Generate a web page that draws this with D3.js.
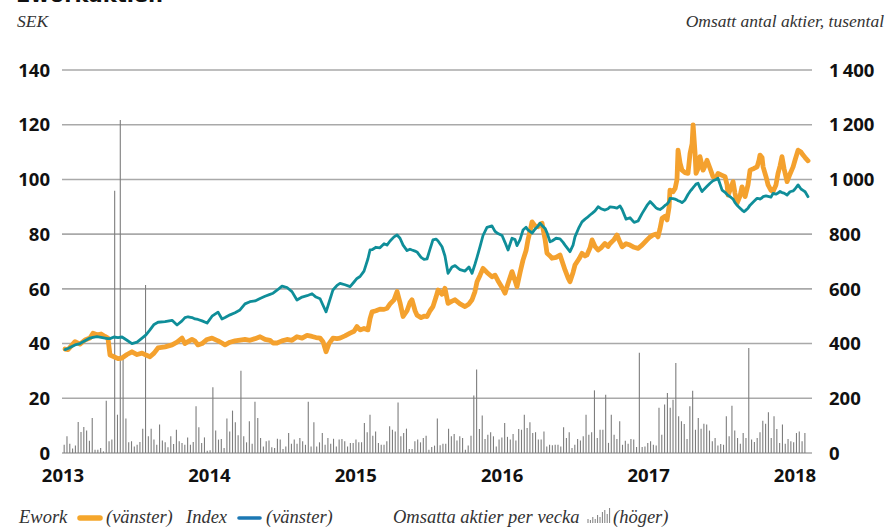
<!DOCTYPE html>
<html lang="sv">
<head>
<meta charset="UTF-8">
<title>Eworkaktien</title>
<script src="https://d3js.org/d3.v7.min.js"></script>
<style>
  html, body { margin: 0; padding: 0; background: #fff; }
  svg { display: block; }
  .tick-label { font-family: "Open Sans", sans-serif; font-weight: 700; font-size: 18.5px; fill: #111; }
  .note { font-family: "Liberation Serif", serif; font-style: italic; font-size: 17.5px; fill: #333; }
  .legend { font-family: "Liberation Serif", serif; font-style: italic; font-size: 18.5px; fill: #333; }
</style>
</head>
<body>
<div id="chart"></div>
<script>
// time as fractional year, one value per reading
const years = [
  2013.014,2013.034,2013.082,2013.116,2013.150,2013.184,2013.205,2013.232,2013.260,2013.287,
  2013.307,2013.321,2013.348,2013.376,2013.403,2013.437,2013.471,2013.506,2013.540,2013.567,
  2013.594,2013.622,2013.649,2013.697,2013.745,2013.779,2013.813,2013.833,2013.854,2013.881,
  2013.902,2013.922,2013.950,2013.984,2014.018,2014.059,2014.086,2014.107,2014.141,2014.175,
  2014.209,2014.243,2014.277,2014.312,2014.346,2014.380,2014.414,2014.435,2014.462,2014.496,
  2014.530,2014.564,2014.598,2014.633,2014.667,2014.701,2014.728,2014.756,2014.776,2014.797,
  2014.817,2014.844,2014.872,2014.892,2014.926,2014.961,2014.988,2015.008,2015.029,2015.056,
  2015.083,2015.097,2015.111,2015.138,2015.165,2015.193,2015.213,2015.234,2015.261,2015.282,
  2015.302,2015.323,2015.350,2015.370,2015.384,2015.405,2015.418,2015.446,2015.466,2015.487,
  2015.507,2015.527,2015.548,2015.562,2015.589,2015.609,2015.630,2015.657,2015.678,2015.712,
  2015.746,2015.773,2015.794,2015.814,2015.828,2015.849,2015.869,2015.896,2015.930,2015.951,
  2015.971,2015.999,2016.019,2016.040,2016.067,2016.088,2016.101,2016.122,2016.142,2016.163,
  2016.176,2016.190,2016.204,2016.224,2016.245,2016.258,2016.272,2016.293,2016.306,2016.327,
  2016.340,2016.368,2016.395,2016.416,2016.429,2016.450,2016.463,2016.484,2016.497,2016.525,
  2016.545,2016.566,2016.579,2016.600,2016.614,2016.634,2016.655,2016.675,2016.702,2016.723,
  2016.737,2016.764,2016.784,2016.805,2016.819,2016.846,2016.873,2016.901,2016.928,2016.955,
  2016.989,2017.010,2017.030,2017.051,2017.064,2017.078,2017.092,2017.112,2017.126,2017.140,
  2017.146,2017.167,2017.181,2017.194,2017.201,2017.215,2017.228,2017.249,2017.269,2017.283,
  2017.297,2017.304,2017.317,2017.324,2017.338,2017.351,2017.365,2017.372,2017.386,2017.399,
  2017.420,2017.440,2017.461,2017.474,2017.502,2017.522,2017.536,2017.543,2017.563,2017.577,
  2017.590,2017.604,2017.625,2017.638,2017.652,2017.659,2017.679,2017.693,2017.720,2017.741,
  2017.754,2017.761,2017.775,2017.782,2017.802,2017.816,2017.836,2017.850,2017.870,2017.884,
  2017.898,2017.911,2017.925,2017.946,2017.966,2017.987,2018.000,2018.021,2018.041,2018.055,
  2018.069,2018.089
];

// Ework share price, SEK (left axis)
const ework = [
  38,37.8,40.7,39.8,41.3,42,43.8,43.2,43.5,42.6,
  42,35.8,35.2,34.5,34.7,36,37,36,36.5,35.8,
  35.2,36.5,38.4,38.8,39.5,40.5,42,40,40.7,41.5,
  40.9,39.5,40,41.5,42,41,40.2,39.5,40.5,41,
  41.3,41.5,41.2,41.8,42.5,41.5,41.2,40.2,40.2,41,
  41.5,41.2,42.5,42,43,42.6,42.2,42,40.7,37,
  40,42,41.8,42,42.8,43.8,44.5,46.2,45,45.5,
  45,49,51.6,52,52.6,52.5,52.9,54.5,56,59,
  55,49.9,52,55,56,52,50.4,49.5,50,49.9,
  52,53.5,57,59.6,58,60.2,54.7,55.5,56,54.5,
  53.5,54.5,56,59,62.6,65,67.5,66,64.4,65,
  63,60.5,58.4,62,66.3,63,60.8,66,70.5,74,
  77.9,81,84.5,83,82.7,83.5,84,78,73,72,
  71.2,71.5,72.4,69,66.9,64,62.6,66,68.7,71,
  73,72,72.4,75,77.9,75.5,74.2,75,76.6,75.5,
  76.6,78,79.7,77,75.4,76.5,76,75.2,74.8,76,
  77.9,79,79.7,80,79,82,85.8,86.5,85.2,90,
  96.1,95.5,96.7,100,110.7,106,103.4,102.5,102.2,109.5,
  113,119.9,110,102.2,104,108.3,105,103.4,105,107,
  104,101,100.5,102.2,101.5,101,98,94.3,97,99.2,
  95,91.3,94,97.3,95,93.7,98,103.4,104,104.6,
  107,108.9,108,104.6,101,98,96,95.6,98,102.2,
  105,108.3,104,99.2,102,104.6,107,110.7,110,108.9,
  108,106.8
];

// Index (left axis)
const index = [
  37.8,38.2,39.5,40,41,42,42.3,42.5,42.3,42,
  41.8,41.8,42.4,42.2,42.4,41.2,40,40.5,42,43.2,
  45,47,47.8,48,48.5,46.8,48.3,49.5,49.8,49.5,
  49,48.8,48.3,47.5,50,51.5,49,49.5,50.5,51.3,
  52.3,54.5,55.3,55.6,56.5,57.3,58,58.4,59.5,61,
  60.5,59,55.9,57,57.5,58.2,57,56.4,54,51.6,
  55,59.6,61.3,62,61.5,60.8,62.5,63.8,64.5,66.5,
  71,74.2,74.3,75.2,75,76.5,76,77.5,79,79.7,
  78.5,76,74,74.5,74.2,73.8,73.5,71.5,70.8,71,
  74.5,77.9,78.2,77.5,75.4,72,65.7,68,68.5,67,
  66.5,68,65.7,69,71.5,75.5,79.5,82.5,83,81,
  80.2,79.5,77,74.2,78.5,78,75.8,78,81.5,82.5,
  81.5,81,80.4,81.8,83,84,83.2,82.1,80.5,77.2,
  77.5,78.5,78.3,77,76,74.5,73.6,76,79,82.5,
  84.5,85.5,86,87,87.6,88.5,90,89.3,88.8,89.3,
  90,89.8,89.5,90.3,89,85.5,86,84.3,84.8,87.5,
  90.5,91.9,90.8,89.6,89.2,89,89.5,90.5,91,92,
  93.1,93,92.8,92.5,92.2,92,91.5,92.5,94.5,95.6,
  96.5,97,97.8,98.3,98.6,97,95.6,96,96.8,97.5,
  98.6,99.5,100,100.4,96.1,95.3,94.5,94.2,93.4,92.8,
  91.5,90.6,89.5,88.8,88.2,88.5,89.5,90.6,92,93.1,
  93,92.8,93.3,93.7,94,93.8,93.5,94.9,94.6,95,
  95.6,95.2,95,94.3,95.5,95.8,96.5,98,96.5,96,
  95.5,93.7
];

// traded shares per week, thousands (right axis), first week ending 2013-01-04
const firstWeek = 2013.008;
const volume = [
  30,61,34,16,27,113,77,95,82,45,
  128,12,12,18,6,191,43,49,959,140,
  1217,347,126,39,43,24,30,40,89,614,
  61,89,49,30,104,46,39,21,61,33,
  85,43,37,30,57,30,40,171,94,37,
  57,8,10,240,82,49,51,18,126,79,
  155,112,65,301,61,39,116,34,187,128,
  55,24,43,46,21,18,52,49,15,24,
  73,34,49,34,55,43,30,187,24,112,
  24,39,73,30,55,34,52,24,49,51,
  43,24,37,37,49,39,39,110,76,140,
  63,79,37,30,30,43,98,85,79,185,
  61,73,89,15,15,43,49,39,55,63,
  12,22,27,126,28,34,34,89,61,69,
  46,61,55,12,27,63,210,305,88,137,
  51,67,76,61,24,49,57,110,59,49,
  69,46,88,85,140,91,112,73,76,49,
  49,79,24,30,28,30,30,24,94,55,
  76,18,30,51,46,61,140,67,76,229,
  55,85,85,213,37,140,67,51,116,30,
  45,34,51,49,22,366,22,24,37,43,
  30,27,165,67,177,219,165,195,329,134,
  116,106,51,171,228,85,128,89,107,104,
  82,43,55,27,33,30,134,61,173,82,
  55,34,73,55,384,49,40,55,76,118,
  107,149,55,134,88,37,104,34,51,43,
  39,73,79,43,73
];

const leftTicks = [0, 20, 40, 60, 80, 100, 120, 140];
const rightTicks = [0, 200, 400, 600, 800, 1000, 1200, 1400];
const yearTicks = [2013, 2014, 2015, 2016, 2017, 2018];
const legendIcon = [4, 3, 6, 4, 8, 6, 11, 13, 9, 15];

const W = 886, H = 528;
const gridLeft = 62, gridRight = 812;

const svg = d3.select("#chart").append("svg")
  .attr("width", W).attr("height", H);

const x = d3.scaleLinear().domain([2013, 2018]).range([63, 795]);
const y = d3.scaleLinear().domain([0, 140]).range([453, 70]);
const yR = d3.scaleLinear().domain([0, 1400]).range([453, 70]);

// title (cut off at the top in the original)
svg.append("text")
  .attr("x", 16).attr("y", 2)
  .style("font-family", "'DejaVu Sans', sans-serif")
  .style("font-weight", "700").style("font-size", "21px")
  .attr("fill", "#111")
  .text("Eworkaktien");

svg.append("text").attr("class", "note")
  .attr("x", 17).attr("y", 27).text("SEK");
svg.append("text").attr("class", "note")
  .attr("x", 884).attr("y", 27).attr("text-anchor", "end")
  .text("Omsatt antal aktier, tusental");

// grid
svg.append("g").selectAll("line")
  .data(leftTicks).join("line")
  .attr("x1", gridLeft).attr("x2", gridRight)
  .attr("y1", d => y(d)).attr("y2", d => y(d))
  .attr("stroke", "#a9a9a9").attr("stroke-width", 1.6);

// left labels
svg.append("g").selectAll("text")
  .data(leftTicks).join("text")
  .attr("class", "tick-label")
  .attr("x", 50).attr("y", d => y(d)).attr("dy", "0.36em")
  .attr("text-anchor", "end")
  .text(d => d);

// right labels
const fmtR = d => d3.format(",")(d).replace(",", "\u2009");
svg.append("g").selectAll("text")
  .data(rightTicks).join("text")
  .attr("class", "tick-label")
  .attr("x", 829).attr("y", d => yR(d)).attr("dy", "0.36em")
  .text(fmtR);

// year labels
svg.append("g").selectAll("text")
  .data(yearTicks).join("text")
  .attr("class", "tick-label")
  .attr("x", d => x(d)).attr("y", 482)
  .attr("text-anchor", "middle")
  .text(d => d);

// weekly volume bars
svg.append("g").selectAll("line")
  .data(volume).join("line")
  .attr("x1", (d, i) => x(firstWeek + i * 7 / 365.25))
  .attr("x2", (d, i) => x(firstWeek + i * 7 / 365.25))
  .attr("y1", yR(0)).attr("y2", d => yR(d))
  .attr("stroke", "#7d7d7d").attr("stroke-width", 1.1);

// lines
const pts = (vals) => vals.map((v, i) => [years[i], v]);
const line = d3.line().x(d => x(d[0])).y(d => y(d[1]));

svg.append("path")
  .datum(pts(ework))
  .attr("d", line)
  .attr("fill", "none")
  .attr("stroke", "#f4a12e").attr("stroke-width", 4.8)
  .attr("stroke-linejoin", "round").attr("stroke-linecap", "round");

svg.append("path")
  .datum(pts(index))
  .attr("d", line)
  .attr("fill", "none")
  .attr("stroke", "#0f8e99").attr("stroke-width", 2.8)
  .attr("stroke-linejoin", "round").attr("stroke-linecap", "round");

// legend
const lg = svg.append("g");
const ly = 523;
lg.append("text").attr("class", "legend").attr("x", 19).attr("y", ly).text("Ework");
lg.append("line").attr("x1", 80).attr("x2", 100).attr("y1", 518).attr("y2", 518)
  .attr("stroke", "#f5a62b").attr("stroke-width", 5.5).attr("stroke-linecap", "round");
lg.append("text").attr("class", "legend").attr("x", 106).attr("y", ly).text("(vänster)");
lg.append("text").attr("class", "legend").attr("x", 186).attr("y", ly).text("Index");
lg.append("line").attr("x1", 239).attr("x2", 260).attr("y1", 518).attr("y2", 518)
  .attr("stroke", "#1c78b4").attr("stroke-width", 3.6).attr("stroke-linecap", "round");
lg.append("text").attr("class", "legend").attr("x", 266).attr("y", ly).text("(vänster)");
lg.append("text").attr("class", "legend").attr("x", 393).attr("y", ly).text("Omsatta aktier per vecka");
lg.append("g").selectAll("line")
  .data(legendIcon).join("line")
  .attr("x1", (d, i) => 588 + i * 2.4).attr("x2", (d, i) => 588 + i * 2.4)
  .attr("y1", 523).attr("y2", d => 523 - d)
  .attr("stroke", "#7d7d7d").attr("stroke-width", 1);
lg.append("text").attr("class", "legend").attr("x", 613).attr("y", ly).text("(höger)");
</script>
</body>
</html>
